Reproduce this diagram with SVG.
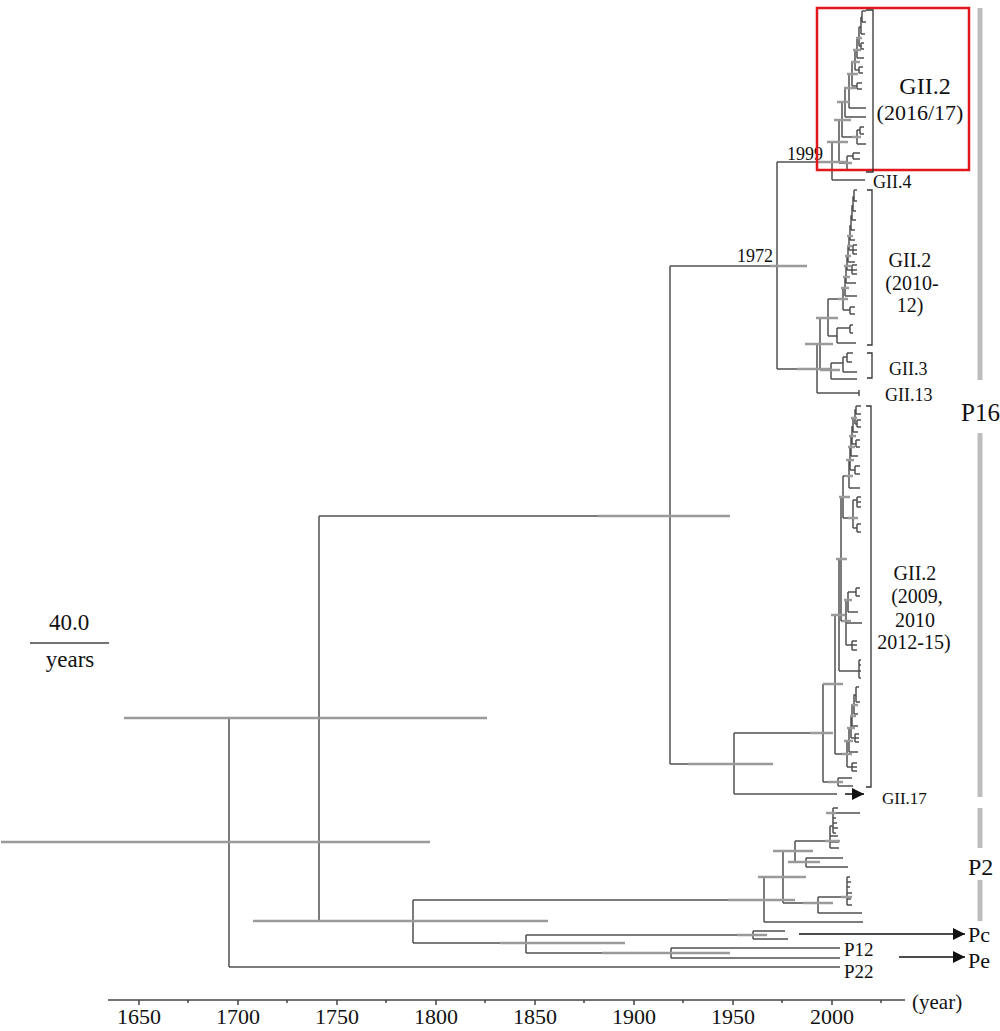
<svg xmlns="http://www.w3.org/2000/svg" width="1000" height="1031" viewBox="0 0 1000 1031">
<style>
text{font-family:"Liberation Serif","Times New Roman",serif;fill:#111}
.br{fill:none;stroke:#505050;stroke-width:1.5}
.bar{fill:none;stroke:#9a9a9a;stroke-width:2.6}
.brk{fill:none;stroke:#333;stroke-width:1.3}
.ax{fill:none;stroke:#444;stroke-width:1.5}
.side{fill:none;stroke:#bdbdbd;stroke-width:5}
.arr{fill:none;stroke:#111;stroke-width:1.5}
</style>
<defs>
<marker id="ah" viewBox="0 0 12 12" refX="12" refY="6" markerWidth="12" markerHeight="12" markerUnits="userSpaceOnUse" orient="auto"><path d="M0 0L12 6L0 12Z" fill="#111"/></marker>
</defs>
<rect width="1000" height="1031" fill="#fff"/>

<g id="connectors">
<path class="br" d="M229 718V967M229 718H319M229 967H840M319 516V921M319 516H670M319 921H413M413 900V943M413 900H764M413 943H526M526 935V953M526 935H753M753 931V939M753 931H785M753 939H788M526 953H671M671 948V958M671 948H840M671 958H840"/>
<path class="br" d="M764 877V922M764 922H863M764 877H783M783 851V903M783 851H795M795 841V862M795 862H806M806 858V867M806 858H843M806 867H848M795 841H830M830 826V848M830 848H839M830 842H839M830 836H838M830 826H833M833 808V833M833 808H838M833 813H860M833 818H836M833 823H837M833 828H838M833 833H836M783 903H818M818 897V913M818 913H862M818 897H847M847 877V905M847 877H850M847 882H851M847 887H850M847 893H852M847 899H851M847 905H852"/>
<path class="br" d="M670 266V764M670 266H777M777 162V369M777 162H832M832 142V180M832 180H865M832 142H839M839 120V163M839 163H847M847 156V170M847 170H858M847 156H853M853 153V159M853 153H860M853 159H860M839 120H842M842 102V137M842 137H857M857 130V144M857 144H866M857 130H860M860 127V134M860 127H864M860 134H864M842 102H845M845 88V117M845 117H866M845 88H849M849 74V108M849 108H866M849 74H852M852 62V86M852 86H857M857 83V89M857 83H862M857 89H862M852 62H855M855 50V70M855 70H859M859 67V73M859 67H863M859 73H863M855 50H857M857 38V58M857 58H864M857 38H859M859 27V46M859 46H861M861 43V49M861 43H864M861 49H864M859 27H861M861 17V34M861 34H865M861 17H862M862 11V22M862 11H866M862 22H866"/>
<path class="br" d="M777 369H817M817 344V393M817 393H859M859 390V396M817 344H820M820 318V370M820 370H831M831 363V379M831 379H857M831 363H843M843 357V372M843 372H857M843 357H847M847 353V362M847 353H853M847 362H852M820 318H828M828 299V336M828 336H837M837 328V343M837 343H856M837 328H850M850 325V333M850 325H853M850 333H853M828 299H843M843 310V288H845M843 310H850M850 307V314M850 307H855M850 314H855M845 296V277H846M845 296H857M846 283V266H847M846 283H856M847 270V256H848M847 270H857M852 265V274M852 265H857M852 274H857M848 262V246H849M848 262H855M849 250V236H850M849 250H857M853 245V254M853 245H857M853 254H857M850 240V226H851M850 240H855M851 230V216H852M851 230H855M852 220V206H853M852 220H856M853 211V197H854M853 211H856M854 201V190M854 201H857M854 190H857"/>
<path class="br" d="M670 764H734M734 733V794M734 794H837M734 733H823M823 684V782M823 782H838M838 778V786M838 778H852M838 786H853M823 684H835M835 615V754M835 754H847M847 767V741H849M847 767H857M852 763V771M852 763H857M852 771H857M849 752V728H851M849 752H858M851 738V716H852M851 738H859M855 734V742M855 734H859M855 742H859M852 726V705H854M852 726H858M854 714V695H856M854 714H858M856 702V687M856 702H860M856 687H859M835 615H839M839 559V671M839 671H861M859 660V678M859 660H861M859 665H861M859 678H861M839 559H841M841 497V621M841 621H846M846 600V645M846 645H857M852 641V650M852 641H857M852 650H857M846 623H862M846 600H848M848 592V612M848 612H858M848 592H856M856 588V596M856 588H860M856 596H860M841 497H843M843 476V518M843 518H853M853 500V528M853 500H857M857 497V507M857 497H861M857 502H861M857 507H861M853 528H857M857 524V532M857 524H861M857 532H861M843 476H849M849 460V488M849 488H860M849 460H850M850 470V447H851M850 470H855M855 466V474M855 466H860M855 474H860M851 456V436H852M851 456H858M852 444V427H853M852 444H856M856 440V447M856 440H860M856 447H860M853 432V418H855M853 432H858M855 424V410H856M855 424H857M857 420V427M857 420H861M857 427H861M856 414V406M856 414H861M856 406H861"/>
<path class="bar" d="M1 842H430M124 718H487M253 921H548M598 516H730M688 764H773M500 943H625M602 953H730M737 935H767M728 900H795M758 877H806M773 851H813M788 862H820M803 903H833M825 841H840M826 813H836M841 897H852M770 266H807M817 162H847M827 142H848M834 120H851M837 102H849M844 88H856M847 74H858M851 62H860M853 50H861M856 38H862M844 163H852M852 137H861M797 369H830M805 344H833M816 318H838M820 370H840M838 299H848M841 288H849M843 277H850M844 266H851M845 256H851M847 246H852M847 236H853M810 733H833M823 684H843M831 615H845M836 559H847M839 497H850M845 476H853M846 460H854M848 447H855M849 436H856M851 418H857M828 782H843M842 754H852M844 741H853M847 728H855M850 716H856M852 705H858M842 621H851M844 600H852M848 518H858"/>
<path class="arr" d="M845 794H864" marker-end="url(#ah)"/>
<path class="arr" d="M799 934H965" marker-end="url(#ah)"/>
<path class="arr" d="M899 957H965" marker-end="url(#ah)"/>
</g>

<g id="node-1999"><text x="787" y="160" font-size="18">1999</text></g>
<g id="node-1972"><text x="737" y="262" font-size="18">1972</text></g>

<g id="clade-GII2-2016-17">
<rect x="817" y="8" width="152" height="162" fill="none" stroke="#e3161b" stroke-width="2.5"/>
<path class="brk" d="M866 10H873V172H866"/>
<text x="925" y="94" font-size="24" text-anchor="middle">GII.2</text>
<text x="920" y="120" font-size="22" text-anchor="middle">(2016/17)</text>
</g>
<g id="clade-GII4"><text x="873" y="188" font-size="18">GII.4</text></g>
<g id="clade-GII2-2010-12">
<path class="brk" d="M867 190H872V345H867"/>
<text x="910" y="267" font-size="20" text-anchor="middle">GII.2</text>
<text x="912" y="290" font-size="20" text-anchor="middle">(2010-</text>
<text x="910" y="312" font-size="20" text-anchor="middle">12)</text>
</g>
<g id="clade-GII3">
<path class="brk" d="M867 353H872V378H867"/>
<text x="889" y="375" font-size="18">GII.3</text>
</g>
<g id="clade-GII13"><text x="885" y="401" font-size="18">GII.13</text></g>
<g id="clade-GII2-2009-15">
<path class="brk" d="M866 406H871V787H866"/>
<text x="915" y="580" font-size="20" text-anchor="middle">GII.2</text>
<text x="917" y="603" font-size="20" text-anchor="middle">(2009,</text>
<text x="915" y="627" font-size="20" text-anchor="middle">2010</text>
<text x="914" y="649" font-size="20" text-anchor="middle">2012-15)</text>
</g>
<g id="clade-GII17"><text x="882" y="804" font-size="17">GII.17</text></g>

<g id="group-P16">
<path class="side" d="M980 8V380M980 433V797"/>
<text x="961" y="421" font-size="25">P16</text>
</g>
<g id="group-P2">
<path class="side" d="M980 808V848M980 880V921"/>
<text x="968" y="875" font-size="24">P2</text>
</g>
<g id="tip-Pc"><text x="968" y="942" font-size="22">Pc</text></g>
<g id="tip-Pe"><text x="968" y="968" font-size="22">Pe</text></g>
<g id="tip-P12"><text x="844" y="956" font-size="19">P12</text></g>
<g id="tip-P22"><text x="844" y="978" font-size="19">P22</text></g>

<g id="scale-bar">
<path class="ax" d="M30 643H109"/>
<text x="69" y="630" font-size="23" text-anchor="middle">40.0</text>
<text x="70" y="667" font-size="23" text-anchor="middle">years</text>
</g>

<g id="time-axis">
<path class="ax" d="M108 1000H905"/>
<path class="ax" d="M139 1000V1005M238 1000V1005M337 1000V1005M436 1000V1005M535 1000V1005M634 1000V1005M733 1000V1005M832 1000V1005M188 1000V1003M287 1000V1003M386 1000V1003M485 1000V1003M584 1000V1003M683 1000V1003M782 1000V1003M881 1000V1003"/>
<g font-size="22" text-anchor="middle">
<text x="139" y="1024">1650</text>
<text x="238" y="1024">1700</text>
<text x="337" y="1024">1750</text>
<text x="436" y="1024">1800</text>
<text x="535" y="1024">1850</text>
<text x="634" y="1024">1900</text>
<text x="733" y="1024">1950</text>
<text x="832" y="1024">2000</text>
</g>
<text x="912" y="1009" font-size="21">(year)</text>
</g>
</svg>
